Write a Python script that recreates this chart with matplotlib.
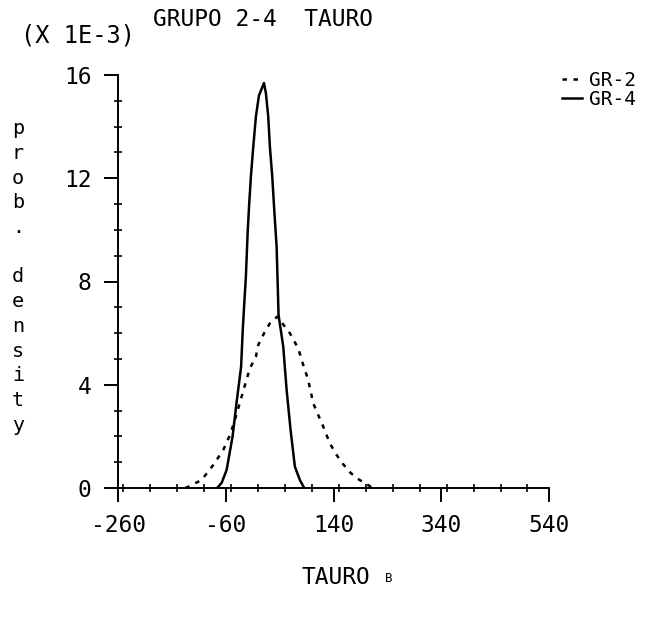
import matplotlib
matplotlib.use("Agg")
import matplotlib.pyplot as plt
from matplotlib.ticker import MultipleLocator

plt.rcParams["font.family"] = ["DejaVu Sans Mono"]
plt.rcParams["axes.unicode_minus"] = False

# values (density in units of 1E-3)
gr2_x = [-135, -129.6, -104.8, -83.2, -64.7, -52.2, -43, -30.5, -24.4, -15.1,
         -4, 0.3, 12.7, 22, 35.6, 59, 74.5, 83.8, 93, 102.4, 111.6, 120.9,
         133.3, 145.7, 158, 172, 187, 207, 212]
gr2_y = [0.0, 0.05, 0.31, 0.89, 1.47, 2.05, 2.64, 3.54, 3.99, 4.64,
         5.09, 5.54, 6.06, 6.38, 6.64, 6.0, 5.41, 4.77, 4.19, 3.28, 2.83, 2.38,
         1.73, 1.28, 0.92, 0.58, 0.33, 0.08, 0.0]

gr4_x = [-76, -67.6, -58.4, -47.3, -40, -31.5, -28.5, -25.5, -22.6, -19.4,
         -16.4, -13.3, -9, -4, 1.6, 10.9, 14.5, 18.8, 22, 26.3, 30, 34.4,
         36, 38, 46.7, 53, 60.3, 68.3, 77.6, 85.6]
gr4_y = [0.0, 0.2, 0.7, 2.0, 3.3, 4.7, 6.1, 7.2, 8.2, 9.88,
         11.04, 12.07, 13.2, 14.4, 15.2, 15.69, 15.3, 14.4, 13.2, 12.07, 10.78, 9.35,
         8.2, 6.7, 5.48, 3.8, 2.25, 0.83, 0.31, 0.0]

xticks = [-260, -60, 140, 340, 540]
yticks = [0, 4, 8, 12, 16]

W, H = 650, 627
fig = plt.figure(figsize=(W / 100, H / 100), dpi=100)
ax = fig.add_axes([118 / W, 1 - 488 / H, (549 - 118) / W, (488 - 75) / H])

ax.plot(gr2_x, gr2_y, color="black", lw=1.8, linestyle=(0, (1.8, 2.6)),
        label="GR-2")
ax.plot(gr4_x, gr4_y, color="black", lw=1.8, label="GR-4")

ax.set_xlim(-260, 540)
ax.set_ylim(0, 16)
ax.set_xticks(xticks)
ax.set_yticks(yticks)
ax.xaxis.set_minor_locator(MultipleLocator(50))
ax.yaxis.set_minor_locator(MultipleLocator(1))
for sp in ("top", "right"):
    ax.spines[sp].set_visible(False)
for sp in ("left", "bottom"):
    ax.spines[sp].set_linewidth(1.4)
ax.tick_params(which="major", direction="out", length=10, width=1.4,
               labelsize=16.5, pad=9)
ax.tick_params(which="minor", direction="inout", length=6, width=1.2)

fig.text(336 / W, 1 - 577 / H, "TAURO", fontsize=16.5, ha="center",
         va="center")
fig.text(389 / W, 1 - 579 / H, "B", fontsize=9, ha="center", va="center")

fig.text(263 / W, 1 - 19 / H, "GRUPO 2-4  TAURO", fontsize=16.5,
         ha="center", va="center")
fig.text(78 / W, 1 - 35 / H, "(X 1E-3)", fontsize=17, ha="center",
         va="center")

ylab = "\n".join(list("prob.") + [""] + list("density"))
fig.text(18 / W, 1 - 277 / H, ylab, fontsize=14.5, ha="center", va="center",
         linespacing=1.38)

fig.legend(loc="upper right", bbox_to_anchor=(1 - 4 / W, 1 - 61 / H),
           frameon=False, fontsize=14, handlelength=1.0, handletextpad=0.4,
           labelspacing=0.0, borderpad=0)

fig.savefig("out.png", dpi=100, facecolor="white")
